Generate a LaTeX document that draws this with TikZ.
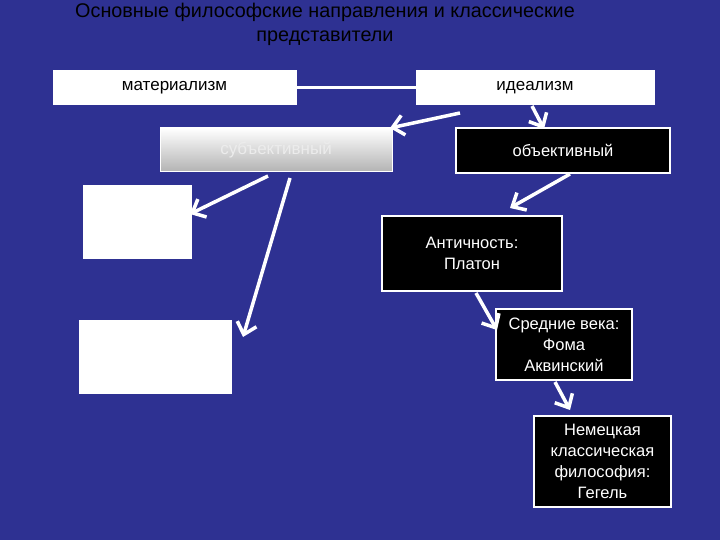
\documentclass[tikz,border=0pt]{standalone}
\usepackage{fontspec}
\setmainfont{Liberation Sans}
\usetikzlibrary{arrows.meta}
\definecolor{bg}{RGB}{46,49,146}
\begin{document}
\begin{tikzpicture}[x=1pt,y=-1pt,
  wbox/.style={draw=white,fill=white,line width=1pt,inner sep=0pt,font=\fontsize{17}{20}\selectfont},
  bbox/.style={draw=white,fill=black,text=white,line width=2pt,inner sep=0pt,align=center,font=\fontsize{16.5}{21}\selectfont},
  arr/.style={draw=white,line width=3.5pt,-{Straight Barb[length=11pt,width=20pt,line width=3.5pt]}}]
\fill[bg] (0,0) rectangle (720,540);
\useasboundingbox (0,0) rectangle (720,540);
\node[align=center,font=\fontsize{19.8}{24}\selectfont] (t) at (325,24) {Основные философские направления и классические\\представители};
\node[wbox,minimum width=243pt,minimum height=34pt] (m) at (174.5,88) {материализм};
\node[wbox,minimum width=238pt,minimum height=34pt] (i) at (535,88) {идеализм};
\draw[white,line width=3pt] (m.east) -- (i.west);
\node[draw=white,top color=white,bottom color=gray!60,text=white!85!gray,line width=1pt,minimum width=232pt,minimum height=44pt,inner sep=0pt,font=\fontsize{17}{20}\selectfont] (s) at (276,150) {субъективный};
\node[bbox,minimum width=214pt,minimum height=45pt] (o) at (563,150.5) {объективный};
\node[wbox,minimum width=108pt,minimum height=72pt] (w1) at (137,222) {};
\node[wbox,minimum width=152pt,minimum height=73pt] (w2) at (155,356.5) {};
\node[bbox,minimum width=180pt,minimum height=75pt] (a) at (472,253.5) {Античность:\\Платон};
\node[bbox,minimum width=136pt,minimum height=71pt] (sv) at (564,344.5) {Средние века:\\Фома\\Аквинский};
\node[bbox,minimum width=137pt,minimum height=91pt] (n) at (602.5,461.5) {Немецкая\\классическая\\философия:\\Гегель};
\coordinate (i1) at (460,113); \coordinate (i2) at (532,106);
\coordinate (o1) at (570,174); \coordinate (s1) at (268,176); \coordinate (s2) at (290,178);
\coordinate (a1) at (476,293); \coordinate (sv1) at (555,382);
\draw[arr] (i1) -- (390,128);
\draw[arr] (i2) -- (544,129);
\draw[arr] (o1) -- (510,208);
\draw[arr] (s1) -- (190,214);
\draw[arr] (s2) -- (243,337);
\draw[arr] (a1) -- (497,330);
\draw[arr] (sv1) -- (570,410);
\end{tikzpicture}
\end{document}
